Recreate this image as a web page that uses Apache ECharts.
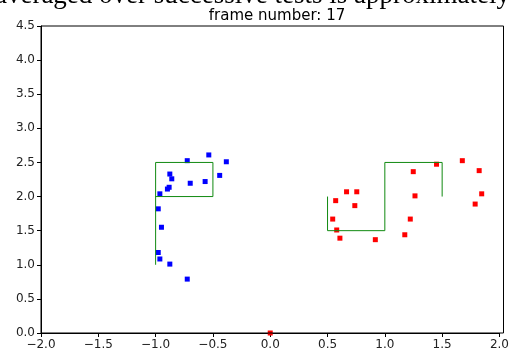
<!DOCTYPE html>
<html><head><meta charset="utf-8">
<script src="https://cdn.jsdelivr.net/npm/echarts@6/dist/echarts.min.js"></script>
<style>html,body{margin:0;padding:0;background:#fff}#c{width:512px;height:353px}</style>
</head><body><div id="c"></div>
<script>
const titleText = "frame number: 17";
const topText = "averaged over successive tests is approximately";
const xTicks = [-2, -1.5, -1, -0.5, 0, 0.5, 1, 1.5, 2];
const yTicks = [0, 0.5, 1, 1.5, 2, 2.5, 3, 3.5, 4, 4.5];
const bluePoints = [
  [-0.724, 2.526], [-0.536, 2.61], [-0.383, 2.51], [-0.876, 2.33], [-0.859, 2.26],
  [-0.441, 2.31], [-0.698, 2.195], [-0.568, 2.22], [-0.882, 2.136], [-0.897, 2.11],
  [-0.963, 2.04], [-0.977, 1.82], [-0.949, 1.55], [-0.977, 1.18], [-0.963, 1.085],
  [-0.876, 1.01], [-0.724, 0.79]
];
const redPoints = [
  [1.451, 2.474], [1.676, 2.526], [1.823, 2.38], [1.248, 2.365], [1.845, 2.04],
  [1.788, 1.89], [1.263, 2.01], [0.666, 2.07], [0.755, 2.07], [0.571, 1.94],
  [0.738, 1.867], [0.545, 1.67], [1.222, 1.67], [0.58, 1.51], [0.608, 1.39],
  [0.917, 1.368], [1.174, 1.44], [0, 0]
];
const bluePath = [[-1, 1], [-1, 2.5], [-0.5, 2.5], [-0.5, 2.0], [-1, 2.0]];
const redPath = [[0.5, 2.0], [0.5, 1.5], [1, 1.5], [1, 2.5], [1.5, 2.5], [1.5, 2.0]];

const fmt = v => (v < 0 ? "\u2212" : "") + Math.abs(v).toFixed(1);
const chart = echarts.init(document.getElementById('c'), null, {renderer: 'canvas'});
const axisCommon = {
  type: 'value',
  axisLine: {show: true, onZero: false, lineStyle: {color: '#000', width: 1}},
  axisTick: {show: true, inside: false, length: 4, lineStyle: {color: '#000'}},
  splitLine: {show: false},
  axisLabel: {color: '#222', fontFamily: 'DejaVu Sans', fontSize: 12, formatter: fmt, margin: 6}
};
chart.setOption({
  animation: false,
  backgroundColor: '#fff',
  title: {text: titleText, left: 272, top: 4, textAlign: 'center',
    textStyle: {fontFamily: 'DejaVu Sans', fontSize: 15, fontWeight: 'normal', color: '#000'}},
  graphic: [
    {type: 'text', x: 510, y: 9, style: {text: topText, font: '27px "Liberation Serif"', fill: '#000', align: 'right', verticalAlign: 'bottom'}},
    {type: 'rect', shape: {x: 41, y: 26, width: 462.5, height: 307}, style: {fill: 'none', stroke: '#000', lineWidth: 1}, z: 10}
  ],
  grid: {left: 41, right: 8.5, top: 26, bottom: 20, containLabel: false},
  xAxis: Object.assign({}, axisCommon, {min: -2, max: 2, interval: 0.5}),
  yAxis: Object.assign({}, axisCommon, {min: 0, max: 4.5, interval: 0.5}),
  series: [
    {type: 'line', data: bluePath, showSymbol: false, lineStyle: {color: '#108a10', width: 1, opacity: 1}, silent: true},
    {type: 'line', data: redPath, showSymbol: false, lineStyle: {color: '#108a10', width: 1, opacity: 1}, silent: true},
    {type: 'scatter', data: bluePoints, symbol: 'rect', symbolSize: 5, itemStyle: {color: '#0000ff', opacity: 1}, clip: true},
    {type: 'scatter', data: redPoints, symbol: 'rect', symbolSize: 5, itemStyle: {color: '#ff0000', opacity: 1}, clip: true}
  ]
});
</script></body></html>
